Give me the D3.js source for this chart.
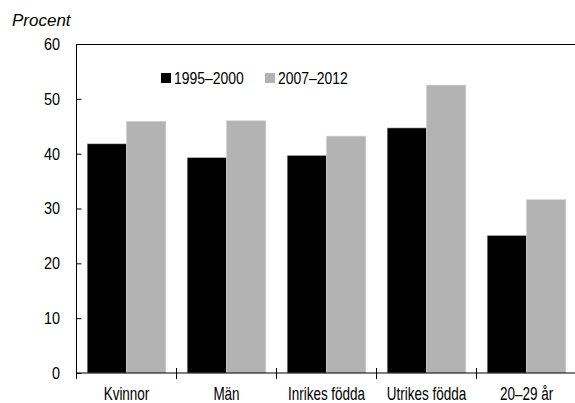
<!DOCTYPE html>
<html><head><meta charset="utf-8">
<script src="https://cdn.jsdelivr.net/npm/d3@7"></script>
<style>
body{margin:0;background:#fff;}
svg{display:block;}
text{font-family:"Liberation Sans",Arial,sans-serif;fill:#000;}
</style></head><body>
<svg id="c" width="575" height="403"></svg>
<script>
const categories = ["Kvinnor","Män","Inrikes födda","Utrikes födda","20–29 år"];
const seriesNames = ["1995–2000","2007–2012"];
const values1995 = [41.8, 39.3, 39.7, 44.7, 25.1];
const values2007 = [45.9, 46.0, 43.2, 52.5, 31.6];
const yTicks = [0,10,20,30,40,50,60];
const colors = ["#000000","#b3b3b3"];

const svg = d3.select("#c");
const W = 575, H = 403;
const left = 76.5, right = 576.5;
const x = d3.scaleBand().domain(categories).range([left, right]).paddingInner(0).paddingOuter(0);
const xs = d3.scaleBand().domain(seriesNames).range([0, x.bandwidth()]).paddingInner(0).paddingOuter(0.27);
const y = d3.scaleLinear().domain([0,60]).range([373,44]);

const data = categories.map((c,i)=>({c, v:[values1995[i], values2007[i]]}));
svg.append("g").selectAll("g.cat").data(data).join("g").attr("class","cat")
 .attr("transform", d=>`translate(${x(d.c)},0)`)
 .selectAll("rect").data(d=>d.v.map((v,j)=>({v, s:seriesNames[j], j})))
 .join("rect")
 .attr("x", d=>xs(d.s)).attr("width", xs.bandwidth())
 .attr("y", d=>y(d.v)).attr("height", d=>y(0)-y(d.v))
 .attr("fill", d=>colors[d.j])
 .attr("stroke", "#d0d0d0").attr("stroke-width", 0.6);

// top frame line
svg.append("line").attr("x1",left).attr("x2",W).attr("y1",44.5).attr("y2",44.5).attr("stroke","#000");

// y axis
const ya = svg.append("g").attr("transform",`translate(${left},0)`)
 .call(d3.axisLeft(y).tickValues(yTicks).tickSize(-5).tickPadding(0).tickFormat(d3.format("d")));
ya.select(".domain").remove();
ya.selectAll(".tick line").attr("stroke","#000");
ya.selectAll(".tick text").attr("font-size","17px").attr("font-family",null)
 .attr("x",-16.5/0.85).attr("transform","scale(0.85,1)");
svg.append("line").attr("x1",left).attr("x2",left).attr("y1",44).attr("y2",373).attr("stroke","#000");

// x axis
const xa = svg.append("g").attr("transform",`translate(0,${y(0)})`)
 .call(d3.axisBottom(x).tickSize(0).tickPadding(0));
xa.select(".domain").remove();
xa.selectAll(".tick text").attr("font-size","18px").attr("font-family",null)
 .attr("y",27).attr("dy",null).attr("transform","scale(0.75,1)");
svg.append("line").attr("x1",left).attr("x2",W).attr("y1",y(0)).attr("y2",y(0)).attr("stroke","#000").attr("stroke-width",1.2);
svg.selectAll("line.xt").data(categories).join("line").attr("class","xt")
 .attr("x1",d=>x(d)).attr("x2",d=>x(d)).attr("y1",y(0)-5).attr("y2",y(0)+6).attr("stroke","#000");

// title
svg.append("text").attr("x",12).attr("y",26).text("Procent")
 .attr("font-style","italic").attr("font-size","17px");

// legend
const lg = svg.append("g");
const lx = [161, 265];
const ls = 0.82;
seriesNames.forEach((s,i)=>{
  lg.append("rect").attr("x",lx[i]).attr("y",73).attr("width",10).attr("height",10).attr("fill",colors[i]);
  lg.append("text").attr("x",(lx[i]+13)/ls).attr("y",84.5).attr("font-size","17px")
    .attr("transform",`scale(${ls},1)`).text(s);
});
</script></body></html>
